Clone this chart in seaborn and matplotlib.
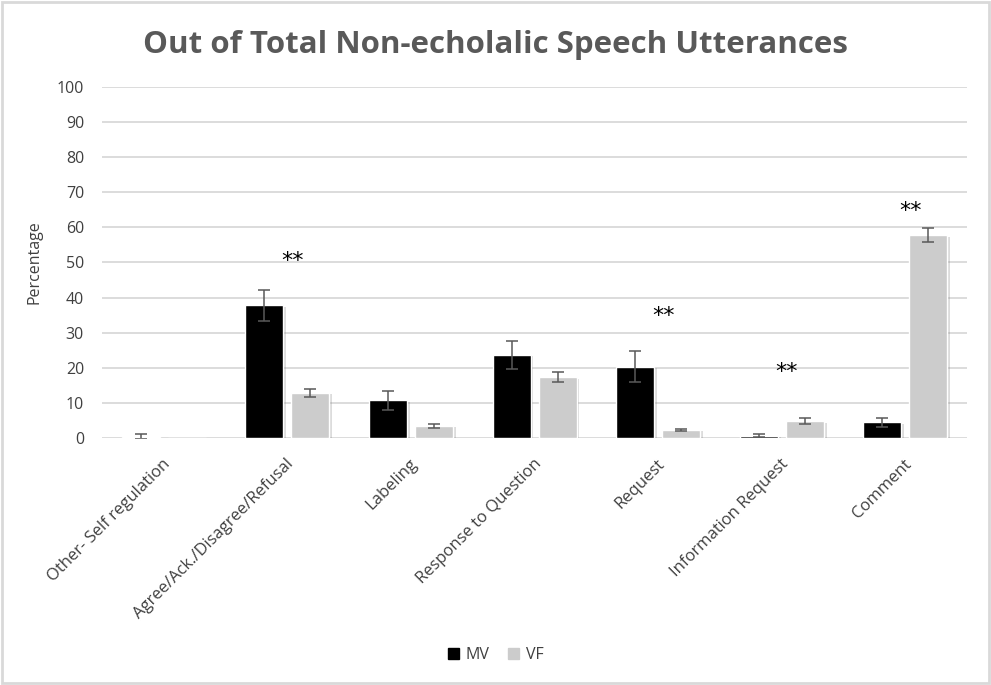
import numpy as np
import pandas as pd
import matplotlib
matplotlib.use('Agg')
import matplotlib.pyplot as plt
import matplotlib.patheffects as pe
import matplotlib.transforms as mtransforms
from matplotlib.patches import Rectangle
import seaborn as sns

# --- data ---
categories = ['Other- Self regulation', 'Agree/Ack./Disagree/Refusal', 'Labeling',
              'Response to Question', 'Request', 'Information Request', 'Comment']
mv_values = [0.4, 37.8, 10.7, 23.7, 20.3, 0.7, 4.5]
mv_errors = [0.6, 4.5, 2.8, 4.0, 4.4, 0.3, 1.3]
vf_values = [0.0, 12.8, 3.4, 17.3, 2.3, 4.8, 57.8]
vf_errors = [0.0, 1.1, 0.5, 1.4, 0.4, 0.8, 1.9]
groups = ['MV', 'VF']
star_categories = [1, 4, 5, 6]
star_heights = [50.5, 34.8, 18.8, 64.7]

df = pd.DataFrame({
    'category': categories * 2,
    'group': ['MV'] * len(categories) + ['VF'] * len(categories),
    'value': mv_values + vf_values,
    'err': mv_errors + vf_errors,
})

sns.set_style('white')
plt.rcParams['font.family'] = ['Open Sans', 'DejaVu Sans']
text_col = '#404040'
grid_col = '#d9d9d9'

fig = plt.figure(figsize=(9.91, 6.85), dpi=100)
ax = fig.add_axes([0.103, 0.3606, 0.873, 0.5124])

sns.barplot(data=df, x='category', y='value', hue='group', hue_order=groups,
            palette={'MV': '#000000', 'VF': '#cccccc'}, width=0.745, gap=0.175,
            errorbar=None, legend=False, ax=ax, zorder=3)

# shadows + error bars
for cont, g in zip(ax.containers, groups):
    sub = df[df['group'] == g]
    xs = [b.get_x() + b.get_width() / 2 for b in cont]
    for b in cont:
        b.set_path_effects([pe.SimplePatchShadow(offset=(2, -1), alpha=0.25, shadow_rgbFace='#777777'),
                            pe.Normal()])
    mask = sub['err'].values > 0
    ax.errorbar(np.array(xs)[mask], sub['value'].values[mask], yerr=sub['err'].values[mask],
                fmt='none', ecolor='#595959', elinewidth=1.1, capsize=4, capthick=1.1, zorder=4)

# significance stars
for c, h in zip(star_categories, star_heights):
    ax.text(c + 0.04, h, '**', ha='center', va='center', fontsize=16, color='#000000',
            family='DejaVu Sans')

ax.set_ylim(0, 100)
ax.set_xlim(-0.5, len(categories) - 0.5)
ax.set_yticks(range(0, 101, 10))
ax.yaxis.grid(True, color=grid_col, linewidth=1.3, zorder=0)
ax.set_axisbelow(True)
for s in ax.spines.values():
    s.set_visible(False)
ax.tick_params(axis='both', length=0, labelsize=11.5, labelcolor=text_col)
ax.tick_params(axis='x', labelsize=12, pad=17)
ax.tick_params(axis='y', pad=13)
ax.set_xticks(range(len(categories)))
ax.set_xticklabels(categories, rotation=45, ha='right', va='center', rotation_mode='anchor')
shift = mtransforms.ScaledTranslation(3 / 72, 0, fig.dpi_scale_trans)
for lab in ax.get_xticklabels():
    lab.set_transform(lab.get_transform() + shift)
ax.set_xlabel('')
ax.set_ylabel('Percentage', fontsize=11.5, color=text_col, labelpad=10)

fig.suptitle('Out of Total Non-echolalic Speech Utterances', y=0.934, va='center', fontsize=22.5,
             fontweight='bold', color='#595959')

handles = [Rectangle((0, 0), 1, 1, color='#000000'), Rectangle((0, 0), 1, 1, color='#cccccc')]
fig.legend(handles, groups, loc='center', bbox_to_anchor=(0.5, 0.044), ncol=2, frameon=False,
           fontsize=11.5, handlelength=0.7, handleheight=0.7, handletextpad=0.4,
           columnspacing=1.2, labelcolor=text_col)

fig.add_artist(Rectangle((0.002, 0.003), 0.996, 0.994, transform=fig.transFigure,
                         fill=False, edgecolor='#d9d9d9', linewidth=2))

fig.savefig('out.png', dpi=100)
